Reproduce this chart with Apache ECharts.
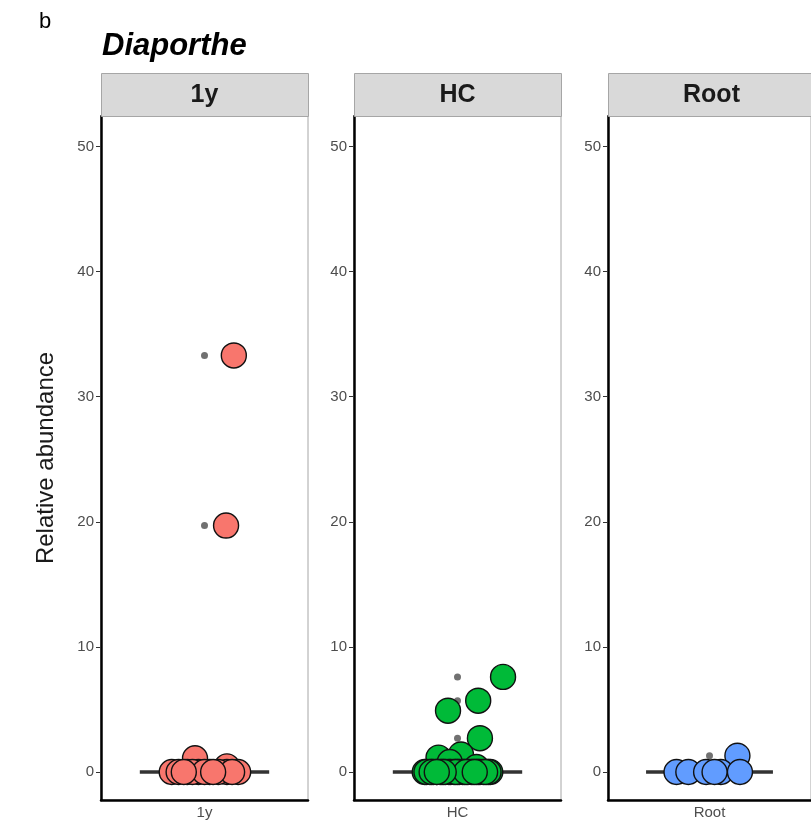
<!DOCTYPE html>
<html>
<head>
<meta charset="utf-8">
<title>Diaporthe relative abundance</title>
<script src="https://cdn.jsdelivr.net/npm/echarts@6/dist/echarts.min.js"></script>
<style>
  html, body { margin: 0; padding: 0; background: #fff; }
  #chart { width: 811px; height: 831px; }
</style>
</head>
<body>
<div id="chart"></div>
<script>
// Facet names and fill colours
const panelNames = ['1y', 'HC', 'Root'];
const panelColors = ['#F8766D', '#00BA38', '#619CFF'];
const yTicks = [0, 10, 20, 30, 40, 50];

// Relative abundance per sample, with the horizontal jitter offset of each point
const abund_1y  = [33.3, 19.7, 1.1, 0.45,
                   0, 0, 0, 0, 0, 0, 0, 0, 0, 0, 0, 0, 0];
const jitter_1y = [0.17, 0.125, -0.055, 0.13,
                   -0.19, -0.1, -0.035, 0.03, 0.13, 0.195, -0.15, -0.07,
                   0.0, 0.08, 0.16, -0.12, 0.05];

const abund_HC  = [7.6, 5.7, 4.9, 2.7, 1.4, 1.15, 0.8, 0.4,
                   0, 0, 0, 0, 0, 0, 0, 0, 0, 0, 0, 0, 0, 0, 0, 0,
                   0, 0, 0, 0, 0, 0, 0, 0, 0, 0, 0, 0, 0, 0, 0, 0];
const jitter_HC = [0.264, 0.12, -0.055, 0.13, 0.02, -0.11, -0.045, 0.11,
                   -0.19, -0.16, -0.12, -0.09, -0.05, -0.02, 0.01, 0.04,
                   0.08, 0.11, 0.15, 0.19, -0.18, -0.14, -0.07, 0.0,
                   0.06, 0.13, 0.17, -0.1, 0.03, 0.09, -0.04, 0.18,
                   -0.15, 0.12, -0.01, 0.05, -0.08, 0.16, -0.12, 0.1];

const abund_Root  = [1.3, 0, 0, 0, 0, 0, 0];
const jitter_Root = [0.165, -0.195, -0.125, -0.02, 0.067, 0.18, 0.03];

const panelAbund = [abund_1y, abund_HC, abund_Root];
const panelJitter = [jitter_1y, jitter_HC, jitter_Root];

// Tukey box statistics (type-7 quantiles, 1.5 * IQR whiskers)
function quantile(sorted, p) {
  const h = (sorted.length - 1) * p;
  const lo = Math.floor(h), hi = Math.ceil(h);
  return sorted[lo] + (h - lo) * (sorted[hi] - sorted[lo]);
}
function boxStats(values) {
  const s = values.slice().sort((a, b) => a - b);
  const q1 = quantile(s, 0.25), med = quantile(s, 0.5), q3 = quantile(s, 0.75);
  const iqr = q3 - q1;
  const inside = s.filter(v => v >= q1 - 1.5 * iqr && v <= q3 + 1.5 * iqr);
  const lowW = Math.min(...inside), highW = Math.max(...inside);
  const outliers = s.filter(v => v < q1 - 1.5 * iqr || v > q3 + 1.5 * iqr);
  return { box: [lowW, q1, med, q3, highW], outliers };
}

const FONT = '"Liberation Sans", Arial, Helvetica, sans-serif';
const gridLefts = [101, 354, 608];
const gridW = 207, gridTop = 116, gridBottomY = 800;
const stripTop = 73;

const grids = [], xAxes = [], yAxes = [], series = [], graphics = [];

panelNames.forEach((name, i) => {
  grids.push({
    left: gridLefts[i], top: gridTop, width: gridW, height: gridBottomY - gridTop,
    show: true, borderColor: '#a6a6a6', borderWidth: 1, backgroundColor: '#fff'
  });
  // visible category axis
  xAxes.push({
    type: 'category', gridIndex: i, data: [name], boundaryGap: true,
    axisLine: { onZero: false, lineStyle: { color: '#000', width: 2.5 } },
    axisTick: { alignWithLabel: true, length: 4, lineStyle: { color: '#333' } },
    axisLabel: { color: '#4d4d4d', fontSize: 15, fontFamily: FONT, margin: 5 },
    splitLine: { show: false }, z: 5
  });
  // hidden continuous axis used for the jittered points
  xAxes.push({
    type: 'value', gridIndex: i, min: 0.4, max: 1.6, show: false,
    splitLine: { show: false }
  });
  yAxes.push({
    type: 'value', gridIndex: i, min: -2.24, max: 52.44,
    axisLine: { show: true, onZero: false, lineStyle: { color: '#000', width: 2.5 } },
    axisTick: { show: true, length: 5, customValues: yTicks, lineStyle: { color: '#333' } },
    axisLabel: { color: '#4d4d4d', fontSize: 15, fontFamily: FONT, margin: 7, customValues: yTicks },
    splitLine: { show: false },
    name: i === 0 ? 'Relative abundance' : '',
    nameLocation: 'middle', nameGap: 43,
    nameTextStyle: { color: '#1a1a1a', fontSize: 24, fontFamily: FONT },
    z: 5
  });

  const stats = boxStats(panelAbund[i]);
  series.push({
    type: 'boxplot', xAxisIndex: 2 * i, yAxisIndex: i,
    data: [stats.box], boxWidth: ['62.5%', '62.5%'],
    itemStyle: { color: '#fff', borderColor: '#333', borderWidth: 3.5 },
    silent: true, z: 1
  });
  series.push({
    type: 'scatter', xAxisIndex: 2 * i + 1, yAxisIndex: i,
    data: stats.outliers.map(v => [1, v]),
    symbolSize: 7, itemStyle: { color: '#4d4d4d' }, silent: true, z: 2
  });
  series.push({
    type: 'scatter', xAxisIndex: 2 * i + 1, yAxisIndex: i,
    data: panelAbund[i].map((v, k) => [1 + panelJitter[i][k], v]),
    symbolSize: 25,
    itemStyle: { color: panelColors[i], borderColor: '#111', borderWidth: 1.4, opacity: 1 },
    silent: true, z: 3
  });

  // facet strip
  graphics.push({
    type: 'rect', left: gridLefts[i], top: stripTop,
    shape: { width: gridW, height: gridTop - stripTop },
    style: { fill: '#d9d9d9', stroke: '#a6a6a6', lineWidth: 1 }, z: 10
  });
  graphics.push({
    type: 'text', x: gridLefts[i] + gridW / 2, y: (stripTop + gridTop) / 2 + 1,
    style: { text: name, fill: '#1a1a1a', font: 'bold 25px ' + FONT, textAlign: 'center', textVerticalAlign: 'middle' },
    z: 11
  });
});

const chart = echarts.init(document.getElementById('chart'), null, { renderer: 'canvas' });
chart.setOption({
  animation: false,
  backgroundColor: '#fff',
  title: [
    { text: 'b', left: 34, top: 6, textStyle: { fontSize: 22, fontWeight: 'normal', color: '#000', fontFamily: FONT } },
    { text: 'Diaporthe', left: 97, top: 26, textStyle: { fontSize: 31, fontWeight: 'bold', fontStyle: 'italic', color: '#000', fontFamily: FONT } }
  ],
  grid: grids,
  xAxis: xAxes,
  yAxis: yAxes,
  series: series,
  graphic: graphics
});
</script>
</body>
</html>
